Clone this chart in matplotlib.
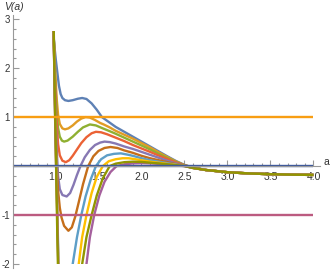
import matplotlib
matplotlib.use("Agg")
import matplotlib.pyplot as plt
from matplotlib.patches import Rectangle
from matplotlib.ticker import MultipleLocator, FixedLocator

plt.rcParams['font.family'] = ['Liberation Sans', 'DejaVu Sans']
plt.rcParams['axes.unicode_minus'] = False

# shared tail, all curves merge after a = 2.6
a_tail = [2.75, 3.0, 3.25, 3.5, 3.75, 4.0]
v_tail = [-0.08, -0.125, -0.15, -0.165, -0.175, -0.18]

a_blue = [0.96, 0.973, 0.99, 1.005, 1.02, 1.04, 1.06, 1.08, 1.11, 1.15, 1.2, 1.26, 1.31, 1.36,
          1.42, 1.48, 1.54, 1.62, 1.7, 1.8, 1.9, 2.0, 2.1, 2.2, 2.3, 2.4, 2.5, 2.6]
v_blue = [3.0, 2.75, 2.4, 2.15, 1.93, 1.64, 1.47, 1.39, 1.345, 1.33, 1.345, 1.375, 1.39, 1.37,
          1.28, 1.15, 1.0, 0.9, 0.8, 0.7, 0.6, 0.5, 0.4, 0.3, 0.2, 0.105, 0.025, -0.03]

a_orange = [0.97, 0.976, 0.99, 1.0, 1.015, 1.03, 1.05, 1.08, 1.11, 1.15, 1.2, 1.25, 1.3, 1.35,
            1.4, 1.46, 1.52, 1.56, 1.63, 1.7, 1.8, 1.9, 2.0, 2.1, 2.2, 2.3, 2.4, 2.5, 2.6]
v_orange = [3.0, 2.75, 2.2, 1.8, 1.35, 1.05, 0.86, 0.77, 0.75, 0.77, 0.83, 0.91, 0.97, 1.0,
            0.99, 0.94, 0.88, 0.85, 0.79, 0.72, 0.64, 0.56, 0.47, 0.38, 0.28, 0.185, 0.095, 0.02, -0.032]

a_green = [0.97, 0.977, 0.99, 1.0, 1.015, 1.03, 1.05, 1.075, 1.1, 1.14, 1.2, 1.26, 1.32, 1.4,
           1.47, 1.55, 1.62, 1.7, 1.8, 1.9, 2.0, 2.1, 2.2, 2.3, 2.4, 2.5, 2.6]
v_green = [3.0, 2.75, 2.1, 1.6, 1.1, 0.78, 0.6, 0.52, 0.5, 0.52, 0.6, 0.7, 0.79, 0.85,
           0.83, 0.77, 0.72, 0.66, 0.58, 0.5, 0.42, 0.34, 0.25, 0.165, 0.085, 0.017, -0.033]

a_red = [0.97, 0.977, 0.99, 1.0, 1.015, 1.03, 1.05, 1.08, 1.12, 1.16, 1.2, 1.25, 1.3, 1.36,
         1.42, 1.47, 1.53, 1.6, 1.7, 1.8, 1.9, 2.0, 2.1, 2.2, 2.3, 2.4, 2.5, 2.6]
v_red = [3.0, 2.75, 2.0, 1.45, 0.85, 0.45, 0.22, 0.11, 0.08, 0.12, 0.21, 0.34, 0.47, 0.59,
         0.67, 0.7, 0.69, 0.65, 0.58, 0.51, 0.43, 0.36, 0.29, 0.215, 0.145, 0.075, 0.014, -0.034]

a_purple = [0.972, 0.978, 0.99, 1.0, 1.015, 1.03, 1.05, 1.08, 1.13, 1.17, 1.21, 1.25, 1.29, 1.34,
            1.4, 1.46, 1.52, 1.57, 1.63, 1.7, 1.8, 1.9, 2.0, 2.1, 2.2, 2.3, 2.4, 2.5, 2.6]
v_purple = [3.0, 2.75, 1.8, 1.1, 0.3, -0.2, -0.47, -0.59, -0.62, -0.55, -0.38, -0.18, 0.0, 0.18,
            0.33, 0.43, 0.48, 0.5, 0.49, 0.46, 0.4, 0.35, 0.29, 0.23, 0.17, 0.11, 0.055, 0.01, -0.035]

a_brown = [0.972, 0.978, 0.99, 1.0, 1.015, 1.03, 1.05, 1.07, 1.1, 1.15, 1.19, 1.23, 1.27, 1.32,
           1.38, 1.44, 1.5, 1.57, 1.64, 1.72, 1.8, 1.9, 2.0, 2.1, 2.2, 2.3, 2.4, 2.5, 2.6]
v_brown = [3.0, 2.75, 1.7, 0.9, 0.0, -0.5, -0.85, -1.05, -1.22, -1.32, -1.25, -1.03, -0.74, -0.37,
           0.0, 0.2, 0.31, 0.37, 0.39, 0.37, 0.32, 0.27, 0.21, 0.16, 0.12, 0.08, 0.042, 0.008, -0.036]

a_lightblue = [0.973, 0.979, 0.99, 1.0, 1.015, 1.025, 1.035, 1.06, 1.12, 1.17, 1.2, 1.25, 1.3,
               1.35, 1.41, 1.47, 1.53, 1.6, 1.68, 1.76, 1.85, 1.92, 2.0, 2.1, 2.2, 2.3, 2.4, 2.5,
               2.6]
v_lightblue = [3.0, 2.75, 1.6, 0.7, -0.4, -1.2, -2.0, -2.5, -2.6, -2.4, -2.0, -1.45, -1.0,
               -0.62, -0.27, 0.0, 0.14, 0.22, 0.25, 0.26, 0.23, 0.2, 0.16, 0.12, 0.09, 0.06, 0.032,
               0.005, -0.037]

a_yellow = [0.973, 0.979, 0.99, 1.0, 1.015, 1.025, 1.033, 1.045, 1.24, 1.27, 1.31, 1.36, 1.42,
            1.48, 1.55, 1.62, 1.7, 1.78, 1.85, 1.93, 2.0, 2.1, 2.2, 2.3, 2.4, 2.5, 2.6]
v_yellow = [3.0, 2.75, 1.55, 0.6, -0.55, -1.35, -2.0, -2.6, -2.6, -2.0, -1.45, -1.0, -0.55,
            -0.22, 0.0, 0.1, 0.14, 0.16, 0.16, 0.14, 0.12, 0.09, 0.07, 0.045, 0.024, 0.003, -0.038]

a_magenta = [0.973, 0.979, 0.99, 1.0, 1.015, 1.025, 1.032, 1.045, 1.33, 1.36, 1.4, 1.45, 1.51,
             1.57, 1.64, 1.71, 1.8, 1.9, 2.0, 2.1, 2.2, 2.3, 2.4, 2.5, 2.6]
v_magenta = [3.0, 2.75, 1.5, 0.55, -0.6, -1.4, -2.0, -2.6, -2.6, -2.0, -1.45, -1.0, -0.6,
             -0.32, -0.12, 0.0, 0.035, 0.055, 0.06, 0.055, 0.045, 0.03, 0.015, 0.0, -0.04]

a_olive = [0.974, 0.98, 0.99, 1.0, 1.012, 1.02, 1.028, 1.04, 1.28, 1.31, 1.36, 1.42, 1.48,
           1.55, 1.63, 1.7, 1.8, 1.9, 2.0, 2.1, 2.2, 2.3, 2.4, 2.5, 2.6]
v_olive = [3.0, 2.75, 1.6, 0.7, -0.5, -1.3, -2.0, -2.6, -2.6, -2.0, -1.45, -1.0, -0.6,
           -0.25, 0.0, 0.05, 0.08, 0.09, 0.085, 0.07, 0.055, 0.037, 0.02, 0.002, -0.039]

curves = [
    (a_blue, v_blue, '#5E81B5'),
    (a_orange, v_orange, '#E19C24'),
    (a_green, v_green, '#8FB032'),
    (a_red, v_red, '#EB6235'),
    (a_purple, v_purple, '#8778B3'),
    (a_brown, v_brown, '#C56E1A'),
    (a_lightblue, v_lightblue, '#5D9EC7'),
    (a_yellow, v_yellow, '#FFBF00'),
    (a_magenta, v_magenta, '#A5609D'),
    (a_olive, v_olive, '#929600'),
]

levels = [0, 1, -1]
level_colors = ['#3B579C', '#F89E13', '#BC5B80']

fig = plt.figure(figsize=(3.32, 2.73), dpi=100)
ax = fig.add_axes([12.5 / 332, 5 / 273, 307 / 332, 252.8 / 273])
ax.set_xlim(0.5, 4.07)
ax.set_ylim(-2.08, 3.08)

clip = Rectangle((0.5, -2.0), 3.6, 4.75, transform=ax.transData, fill=False, visible=False)
ax.add_patch(clip)

for a, v, c in curves:
    line, = ax.plot(a + a_tail, v + v_tail, color=c, lw=1.7, solid_capstyle='butt')
    line.set_clip_path(clip)

for y, c in zip(levels, level_colors):
    ax.plot([0.5, 4.0], [y, y], color=c, lw=1.7, solid_capstyle='butt')

for s in ['top', 'right']:
    ax.spines[s].set_visible(False)
ax.spines['left'].set_position(('data', 0.5))
ax.spines['bottom'].set_position(('data', 0))
for s in ['left', 'bottom']:
    ax.spines[s].set_color('#999999')
    ax.spines[s].set_linewidth(0.8)

ax.xaxis.set_major_locator(FixedLocator([1.0, 1.5, 2.0, 2.5, 3.0, 3.5, 4.0]))
ax.xaxis.set_minor_locator(MultipleLocator(0.1))
ax.set_xticklabels(['1.0', '1.5', '2.0', '2.5', '3.0', '3.5', '4.0'])
ax.yaxis.set_major_locator(FixedLocator([-2, -1, 1, 2, 3]))
ax.yaxis.set_minor_locator(MultipleLocator(0.2))
ax.set_yticklabels(['-2', '-1', '1', '2', '3'])

ax.tick_params(which='both', direction='in', colors='#999999', labelcolor='#333333',
               labelsize=7.5, width=0.8)
ax.tick_params(which='major', length=4)
ax.tick_params(axis='x', which='major', pad=4)
ax.tick_params(axis='y', which='major', pad=2, labelsize=7)
ax.tick_params(which='minor', length=2.2)

fig.text(4 / 332, 1 - 7 / 273, 'V(a)', fontsize=7.5, color='#333333', va='center', ha='left',
         fontstyle='italic')
ax.text(4.12, 0.08, 'a', fontsize=7.5, color='#333333', va='center', ha='left', clip_on=False)

plt.savefig('out.png', dpi=100)
plt.close(fig)
